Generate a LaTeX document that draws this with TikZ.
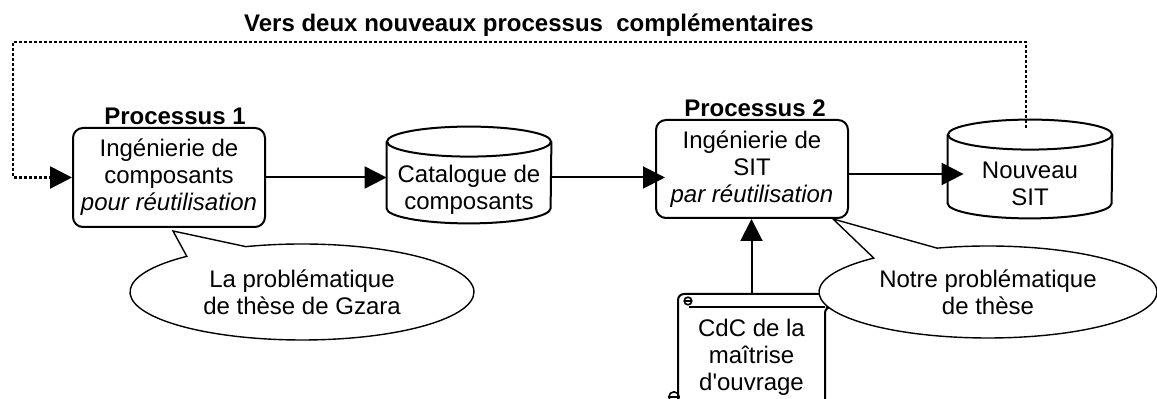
\documentclass[tikz,border=0pt]{standalone}
\usepackage{fontspec}
\setmainfont{Liberation Sans}
\usepackage{tikz}
\usetikzlibrary{shapes.geometric, shapes.callouts, arrows.meta, positioning, calc}
\definecolor{mydark}{RGB}{0,0,0}
\tikzset{
  procbox/.style={rectangle, draw=mydark, fill=white,
    minimum width=96pt, minimum height=49.5pt, align=center,
    rounded corners=5pt, line width=1pt, inner sep=0pt},
  storebody/.style={rectangle, minimum width=82pt, minimum height=33pt,
    align=center, inner sep=0pt},
  scrollbody/.style={rectangle, minimum width=73.5pt, minimum height=63pt,
    align=center, inner sep=0pt},
  bubble/.style={ellipse callout, draw=mydark, fill=white, align=center,
    line width=0.7pt, inner sep=0pt},
  arrow/.style={-{Triangle[length=11pt, width=11pt]}, line width=1pt, color=mydark},
  dotarrow/.style={arrow, line width=1.3pt, dash pattern=on 1.4pt off 1.1pt},
  line/.style={line width=1pt, color=mydark},
  curl/.style={line width=0.8pt, color=mydark},
  lbl/.style={font=\bfseries, anchor=base}
}
% cylinder drawn round a store body
\newcommand{\drawstore}[1]{%
  \draw[line] ([yshift=7.5pt]#1.north west) -- ([yshift=7.5pt]#1.south west)
    arc[start angle=180, end angle=360, x radius=41pt, y radius=7.5pt]
    -- ([yshift=7.5pt]#1.north east);
  \draw[line] ([yshift=7.5pt]#1.north) ellipse [x radius=41pt, y radius=7.5pt];
}

\begin{document}
\fontsize{12}{13.5}\selectfont
\begin{tikzpicture}[x=0.5pt, y=-0.5pt]
  \useasboundingbox (0,0) rectangle (1157,399);
  \clip (0,0) rectangle (1157,399);

  % Title
  \node[lbl] (title) at (529,32) {Vers deux nouveaux processus\ \ complémentaires};

  % Processes
  \node[procbox] (proc1) at (169,177.5) {Ingénierie de\\composants\\\textit{pour réutilisation}};
  \node[lbl] (p1lbl) at (175,125) {Processus 1};
  \node[procbox, minimum height=49pt] (proc2) at (752,169) {Ingénierie de\\SIT\\\textit{par réutilisation}};
  \node[lbl] (p2lbl) at (755,117) {Processus 2};

  % Stores
  \node[storebody] (cat) at (469,190) {Catalogue de\\composants};
  \node[storebody, minimum height=34pt] (sit) at (1030,184) {Nouveau\\SIT};
  \drawstore{cat}
  \drawstore{sit}

  % Scroll
  \node[scrollbody] (cdc) at (751.5,357) {CdC de la\\maîtrise\\d\textquotesingle ouvrage};
  \draw[line, rounded corners=3pt] (678,420) -- (678,294) -- (832,294) -- (832,307) -- (825,307) -- (825,420);
  \draw[line] (689,307) -- (825,307);
  \draw[curl] (688,301) circle[radius=1.9pt];
  \draw[curl] (684,301) -- (692,301);
  \draw[curl] (674,397) circle[radius=2.6pt];
  \draw[curl] (669,397) -- (679,397);

  % Flow
  \draw[arrow] (proc1.east) -- (proc1.east -| cat.west);
  \draw[arrow, shorten >=-5pt] (proc1.east -| cat.east) -- (proc1.east -| proc2.west);
  \draw[arrow, shorten >=-8pt] ([yshift=-2.5pt]proc2.east) -- ([yshift=-2.5pt]proc2.east -| sit.west);
  \draw[arrow] (cdc.north) -- (cdc.north |- proc2.south);

  % Loop back
  \coordinate (sittop) at ($(sit.north)+(-4,-22)$);
  \coordinate (backcorner) at (13,42);
  \draw[dotarrow] (sittop) |- (backcorner) |- (proc1.west);

  % Callouts
  \node[bubble, minimum width=172pt, minimum height=48pt, callout pointer arc=23,
    callout absolute pointer={($(proc1.south)+(4,3)$)}] (gzara) at (302,292)
    {La problématique\\de thèse de Gzara};
  \node[bubble, minimum width=169pt, minimum height=46pt, callout pointer arc=25,
    callout absolute pointer={($(proc2.south east)+(-16,0)$)}] (notre) at (988,292)
    {Notre problématique\\de thèse};
\end{tikzpicture}
\end{document}
